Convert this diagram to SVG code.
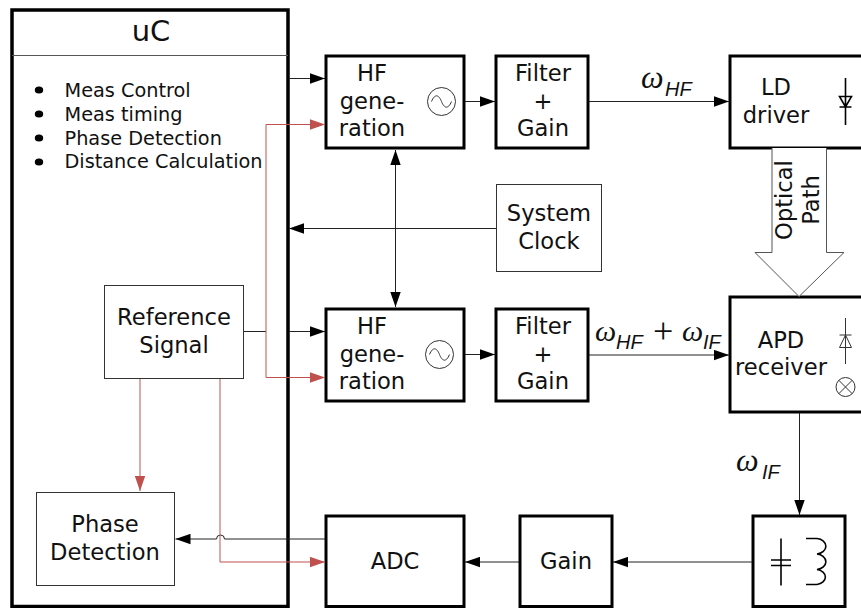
<svg xmlns="http://www.w3.org/2000/svg" width="861" height="608" viewBox="0 0 861 608">
<style>
text{font-family:"DejaVu Sans",sans-serif;fill:#111;font-size:22.600px}
.m{text-anchor:middle}
.l{font-size:19.300px}
.b{fill:#fff;stroke:#000;stroke-width:3}
.t{fill:#fff;stroke:#333;stroke-width:1}
.c{fill:none;stroke:#222;stroke-width:1}
.r{fill:none;stroke:#c0504d;stroke-width:1}
.w{font-family:"Liberation Serif",serif;font-style:italic;font-size:32px}
.w2{font-family:"Liberation Serif",serif;font-style:italic;font-size:30px}
.s{font-family:"Liberation Sans",sans-serif;font-style:italic;font-size:20px}
.i{fill:none;stroke:#333;stroke-width:1}
.k{fill:none;stroke:#000;stroke-width:1.600}
</style>
<defs>
<marker id="a" markerUnits="userSpaceOnUse" markerWidth="16" markerHeight="11" refX="15" refY="5.500" orient="auto-start-reverse"><path d="M0 0.300L15 5.500L0 10.700Z" fill="#000"/></marker>
<marker id="ar" markerUnits="userSpaceOnUse" markerWidth="16" markerHeight="11" refX="15" refY="5.500" orient="auto"><path d="M0 0.300L15 5.500L0 10.700Z" fill="#c0504d"/></marker>
</defs>
<rect width="861" height="608" fill="#fff"/>
<g id="uC">
<rect class="b" x="12" y="10" width="276" height="596.500" style="stroke-width:3.500"/>
<line x1="12" y1="55.500" x2="288" y2="55.500" stroke="#555" stroke-width="1"/>
<text class="m" x="151" y="41" style="font-size:29px">uC</text>
<ellipse cx="39" cy="90" rx="4.200" ry="3.600" fill="#000"/>
<ellipse cx="39" cy="114" rx="4.200" ry="3.600" fill="#000"/>
<ellipse cx="39" cy="138" rx="4.200" ry="3.600" fill="#000"/>
<ellipse cx="39" cy="162" rx="4.200" ry="3.600" fill="#000"/>
<text class="l" x="64.500" y="96.500">Meas Control</text>
<text class="l" x="64.500" y="120.500">Meas timing</text>
<text class="l" x="64.500" y="144.500">Phase Detection</text>
<text class="l" x="64.500" y="168">Distance Calculation</text>
</g>
<g id="reference-signal">
<rect class="t" x="104.500" y="285.500" width="139" height="93"/>
<text class="m" x="174" y="325">Reference</text>
<text class="m" x="174" y="353">Signal</text>
</g>
<g id="phase-detection">
<rect class="t" x="36.500" y="492.500" width="138" height="93"/>
<text class="m" x="105" y="532">Phase</text>
<text class="m" x="105" y="560">Detection</text>
</g>
<g id="hf1">
<rect class="b" x="326" y="56" width="138" height="92"/>
<text class="m" x="372" y="80.500">HF</text>
<text class="m" x="372" y="108.500">gene-</text>
<text class="m" x="372" y="135.500">ration</text>
<circle class="i" cx="441.500" cy="101.500" r="14"/>
<path class="i" d="M431.500 101.500C435 93 439 95 441.500 101.500S448 110 451.500 101.500"/>
</g>
<g id="filter1">
<rect class="b" x="496" y="56" width="92" height="92"/>
<text class="m" x="543" y="80.500">Filter</text>
<text class="m" x="543" y="108.500">+</text>
<text class="m" x="543" y="135.500">Gain</text>
</g>
<g id="ld-driver">
<rect class="b" x="730" y="56" width="134" height="92"/>
<text class="m" x="776" y="94.500">LD</text>
<text class="m" x="776" y="122.500">driver</text>
<path class="k" d="M845.500 78V125M839.500 96.500H851.500L845.500 107ZM839.500 107H851.500"/>
</g>
<g id="system-clock">
<rect class="t" x="496.500" y="184.500" width="105" height="87"/>
<text class="m" x="549" y="221">System</text>
<text class="m" x="549" y="249">Clock</text>
</g>
<g id="hf2">
<rect class="b" x="326" y="309" width="138" height="92"/>
<text class="m" x="372" y="333.500">HF</text>
<text class="m" x="372" y="361.500">gene-</text>
<text class="m" x="372" y="388.500">ration</text>
<circle class="i" cx="439.500" cy="354.500" r="14"/>
<path class="i" d="M429.500 354.500C433 346 437 348 439.500 354.500S446 363 449.500 354.500"/>
</g>
<g id="filter2">
<rect class="b" x="496" y="309" width="92" height="92"/>
<text class="m" x="543" y="333.500">Filter</text>
<text class="m" x="543" y="361.500">+</text>
<text class="m" x="543" y="388.500">Gain</text>
</g>
<g id="apd-receiver">
<rect class="b" x="730" y="297" width="134" height="115"/>
<text class="m" x="781" y="348">APD</text>
<text class="m" x="781" y="375">receiver</text>
<path class="i" d="M845.500 318V364M839.500 335H851.500M839.500 347.500H851.500L845.500 335Z"/>
<circle class="i" cx="845.500" cy="387" r="9.500"/>
<path class="i" d="M838.800 380.300L852.200 393.700M852.200 380.300L838.800 393.700"/>
</g>
<g id="adc">
<rect class="b" x="326" y="516" width="138" height="90.500"/>
<text class="m" x="395" y="569">ADC</text>
</g>
<g id="gain">
<rect class="b" x="520" y="516" width="92" height="90.500"/>
<text class="m" x="566" y="569">Gain</text>
</g>
<g id="tank">
<rect class="b" x="753" y="516" width="92" height="90.500"/>
<path class="k" d="M781 538.500V585.500M771 560H791M771 565.500H791"/>
<path class="k" d="M806 538.500H817A10 7.800 0 0 1 817 554A10 7.800 0 0 1 817 569.500A10 7.600 0 0 1 817 584.500H806"/>
</g>
<g id="optical-path">
<path d="M772 148V252.500H755L799 296.500L844 252.500H826.500V148" fill="#fff" stroke="#555" stroke-width="1"/>
<text class="m" transform="translate(792 200) rotate(-90)">Optical</text>
<text class="m" transform="translate(819 200) rotate(-90)">Path</text>
</g>
<g id="connectors">
<path class="c" d="M289 78.500H325" marker-end="url(#a)"/>
<path class="c" d="M465 101.500H495" marker-end="url(#a)"/>
<path class="c" d="M589 101.500H729" marker-end="url(#a)"/>
<path class="c" d="M395.500 150V307" marker-start="url(#a)" marker-end="url(#a)"/>
<path class="c" d="M496 228.500H289" marker-end="url(#a)"/>
<path class="c" d="M244 331.500H266"/>
<path class="c" d="M289 331.500H325" marker-end="url(#a)"/>
<path class="c" d="M465 354.500H495" marker-end="url(#a)"/>
<path class="c" d="M589 355H729" marker-end="url(#a)"/>
<path class="c" d="M799.500 413V515" marker-end="url(#a)"/>
<path class="c" d="M752 562H613" marker-end="url(#a)"/>
<path class="c" d="M519 562H465" marker-end="url(#a)"/>
<path class="c" d="M325 539H224.500A4 4 0 0 0 216.500 539H175.500" marker-end="url(#a)"/>
<path class="r" d="M266 331V124.500H325" marker-end="url(#ar)"/>
<path class="r" d="M266 331V377.500H325" marker-end="url(#ar)"/>
<path class="r" d="M140 379V491" marker-end="url(#ar)"/>
<path class="r" d="M220 379V562H325" marker-end="url(#ar)"/>
</g>
<g id="labels">
<text class="w" x="641" y="88">ω</text><text class="s" x="665" y="96">HF</text>
<text class="w2" x="595" y="341">ω</text><text class="s" x="616" y="349">HF</text>
<text x="653" y="343" style="font-family:'Liberation Serif',serif;font-size:36px">+</text>
<text class="w2" x="682" y="341">ω</text><text class="s" x="703" y="349">IF</text>
<text class="w" x="736" y="471">ω</text><text class="s" x="762" y="479">IF</text>
</g>
</svg>
